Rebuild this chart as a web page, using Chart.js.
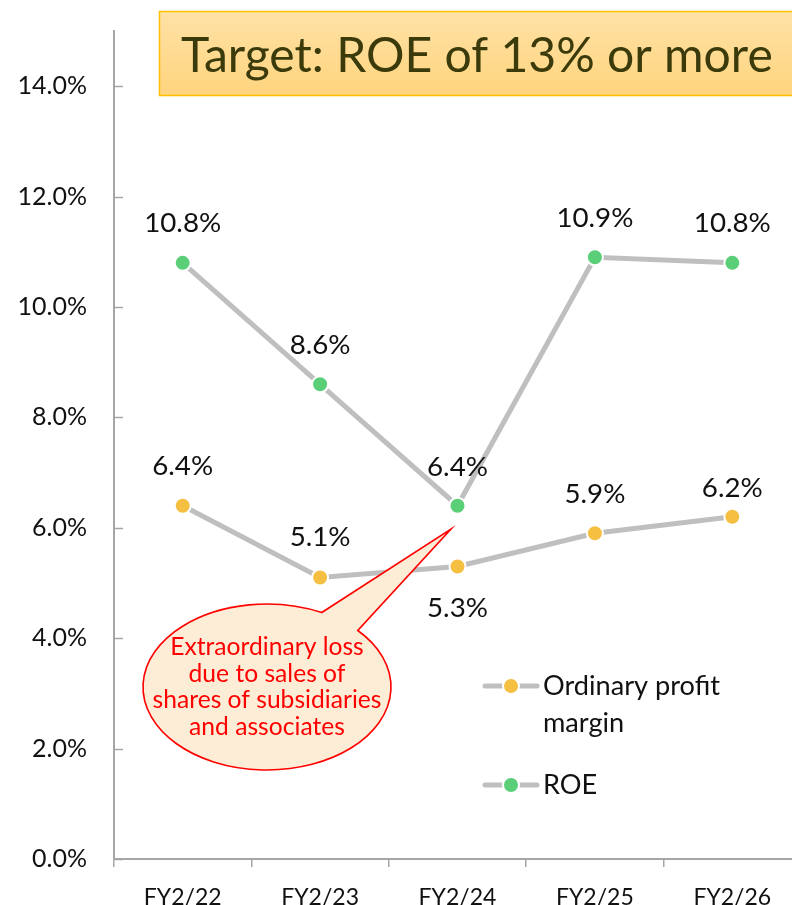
<!DOCTYPE html>
<html><head><meta charset="utf-8">
<script src="https://cdn.jsdelivr.net/npm/chart.js@4.4.0/dist/chart.umd.min.js"></script>
<style>
html,body{margin:0;padding:0;overflow:hidden;background:#fff;width:792px;height:905px}
#wrap{position:relative;width:812px;height:905px}
</style>
</head><body><div id="wrap"><canvas id="c" width="812" height="905"></canvas></div>
<script>
// ---- data ----
const categories = ['FY2/22','FY2/23','FY2/24','FY2/25','FY2/26'];
const ordinaryProfitMargin = [6.4, 5.1, 5.3, 5.9, 6.2];
const roe = [10.8, 8.6, 6.4, 10.9, 10.8];
const yTicks = [0, 2, 4, 6, 8, 10, 12, 14];
const seriesNames = ['Ordinary profit margin', 'ROE'];
const titleText = 'Target: ROE of 13% or more';
const calloutLines = ['Extraordinary loss', 'due to sales of', 'shares of subsidiaries', 'and associates'];

// ---- layout / style (not data) ----
const marginLabelOffsets = [-40, -40, 42, -39, -29];
const roeLabelOffsets = [-40, -39, -39, -39, -40];
const FAMILY = 'Lato, "Open Sans", sans-serif';
const LINE_GRAY = '#BFBFBF';
const AXIS_GRAY = '#A6A6A6';

const mctx = document.createElement('canvas').getContext('2d');
function fitSize(text, targetW) {
  mctx.font = '100px ' + FAMILY;
  const w = mctx.measureText(text).width;
  return 100 * targetW / w;
}
const tickSize = 25;
const xSize = 23;
const dataSize = fitSize('10.8%', 77);
const legendSize = fitSize('Ordinary profit', 177);
const calloutSize = fitSize('shares of subsidiaries', 229);
const titleSize = fitSize(titleText, 592);

const dataLabels = {
  id: 'dataLabels',
  afterDatasetsDraw(chart) {
    const ctx = chart.ctx;
    ctx.save();
    ctx.font = dataSize + 'px ' + FAMILY;
    ctx.fillStyle = '#111';
    ctx.textAlign = 'center';
    ctx.textBaseline = 'middle';
    chart.data.datasets.forEach((ds, di) => {
      const meta = chart.getDatasetMeta(di);
      meta.data.forEach((pt, i) => {
        ctx.fillText(ds.data[i].toFixed(1) + '%', pt.x, pt.y + ds.labelOffsets[i]);
      });
    });
    ctx.restore();
  }
};

const innerTicks = {
  id: 'innerTicks',
  afterDraw(chart) {
    const y = chart.scales.y, ctx = chart.ctx;
    ctx.save();
    ctx.strokeStyle = AXIS_GRAY;
    ctx.lineWidth = 1.5;
    y.ticks.forEach(t => {
      const py = Math.round(y.getPixelForValue(t.value)) + 0.5;
      ctx.beginPath();
      ctx.moveTo(y.right, py);
      ctx.lineTo(y.right + 9, py);
      ctx.stroke();
    });
    ctx.restore();
  }
};

const decorations = {
  id: 'decorations',
  afterDraw(chart) {
    const ctx = chart.ctx;
    ctx.save();
    // title box
    const g = ctx.createLinearGradient(0, 11, 0, 95);
    g.addColorStop(0, '#FFE2A6');
    g.addColorStop(1, '#FFD47E');
    ctx.fillStyle = g;
    ctx.fillRect(159.5, 11.5, 700, 84);
    ctx.strokeStyle = '#FFC000';
    ctx.lineWidth = 1.5;
    ctx.strokeRect(159.5, 11.5, 700, 84);
    ctx.fillStyle = '#3B3A0A';
    ctx.font = titleSize + 'px ' + FAMILY;
    ctx.textAlign = 'left';
    ctx.textBaseline = 'alphabetic';
    ctx.fillText(titleText, 181, 72);

    // callout
    const cx = 267, cy = 687, rx = 124, ry = 83;
    const a1 = -42.9 * Math.PI / 180, a2 = 296.2 * Math.PI / 180;
    ctx.beginPath();
    ctx.ellipse(cx, cy, rx, ry, 0, a1, a2, false);
    ctx.lineTo(451, 529);
    ctx.closePath();
    ctx.fillStyle = '#FDEDD6';
    ctx.fill();
    ctx.strokeStyle = '#FF0000';
    ctx.lineWidth = 1.6;
    ctx.stroke();
    ctx.fillStyle = '#FF0000';
    ctx.font = calloutSize + 'px ' + FAMILY;
    ctx.textAlign = 'center';
    ctx.textBaseline = 'middle';
    calloutLines.forEach((l, i) => ctx.fillText(l, cx, 647 + i * 26.7));

    // legend
    const items = [
      { y: 686, ds: chart.data.datasets[0] },
      { y: 785, ds: chart.data.datasets[1] }
    ];
    ctx.font = legendSize + 'px ' + FAMILY;
    ctx.textAlign = 'left';
    items.forEach(it => {
      ctx.strokeStyle = LINE_GRAY;
      ctx.lineWidth = 5;
      ctx.lineCap = 'round';
      ctx.beginPath();
      ctx.moveTo(485, it.y);
      ctx.lineTo(537, it.y);
      ctx.stroke();
      ctx.beginPath();
      ctx.arc(511, it.y, 8, 0, Math.PI * 2);
      ctx.fillStyle = it.ds.pointBackgroundColor;
      ctx.fill();
      ctx.strokeStyle = '#fff';
      ctx.lineWidth = 2;
      ctx.stroke();
      ctx.fillStyle = '#111';
      const words = it.ds.label.split(' ');
      const lines = [];
      let cur = '';
      words.forEach(w => {
        const t = cur ? cur + ' ' + w : w;
        if (ctx.measureText(t).width > 195 && cur) { lines.push(cur); cur = w; } else cur = t;
      });
      lines.push(cur);
      lines.forEach((l, i) => ctx.fillText(l, 543, it.y + i * 37));
    });
    ctx.restore();
  }
};

new Chart(document.getElementById('c'), {
  type: 'line',
  data: {
    labels: categories,
    datasets: [
      {
        label: seriesNames[0], data: ordinaryProfitMargin, labelOffsets: marginLabelOffsets,
        borderColor: LINE_GRAY, borderWidth: 5, pointBackgroundColor: '#F5BF42',
        pointBorderColor: '#fff', pointBorderWidth: 2, pointRadius: 8, pointHoverRadius: 8, tension: 0
      },
      {
        label: seriesNames[1], data: roe, labelOffsets: roeLabelOffsets,
        borderColor: LINE_GRAY, borderWidth: 5, pointBackgroundColor: '#5ACF78',
        pointBorderColor: '#fff', pointBorderWidth: 2, pointRadius: 8, pointHoverRadius: 8, tension: 0
      }
    ]
  },
  options: {
    responsive: false,
    animation: false,
    events: [],
    layout: { padding: { top: 31, right: 11, left: 0, bottom: 0 } },
    plugins: { legend: { display: false }, tooltip: { enabled: false } },
    scales: {
      x: {
        offset: true,
        grid: { display: true, drawOnChartArea: false, drawTicks: true, tickLength: 8, offset: true, color: AXIS_GRAY, lineWidth: 1.5 },
        border: { display: true, color: AXIS_GRAY, width: 2 },
        ticks: { color: '#111', font: { family: FAMILY, size: xSize }, padding: 17, maxRotation: 0 },
        afterFit(s) { s.height = 46; }
      },
      y: {
        min: 0, max: 15,
        grid: { display: false, drawTicks: false },
        border: { display: true, color: AXIS_GRAY, width: 2 },
        ticks: { color: '#111', font: { family: FAMILY, size: tickSize }, padding: 27,
                 callback: v => v.toFixed(1) + '%' },
        afterBuildTicks(s) { s.ticks = yTicks.map(v => ({ value: v })); },
        afterFit(s) { s.width = 114; s.paddingTop = 0; s.paddingBottom = 0; }
      }
    }
  },
  plugins: [dataLabels, innerTicks, decorations]
});
</script>
</body></html>
